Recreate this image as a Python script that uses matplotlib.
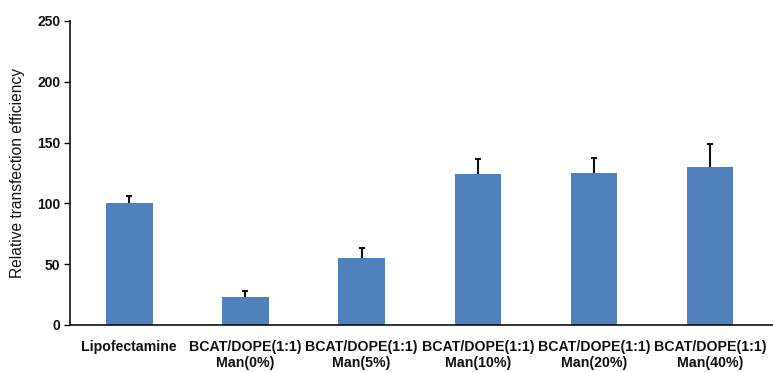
import matplotlib
matplotlib.use("Agg")
import matplotlib.pyplot as plt
import numpy as np

categories = ["Lipofectamine", "BCAT/DOPE(1:1)\nMan(0%)", "BCAT/DOPE(1:1)\nMan(5%)",
              "BCAT/DOPE(1:1)\nMan(10%)", "BCAT/DOPE(1:1)\nMan(20%)", "BCAT/DOPE(1:1)\nMan(40%)"]
values = [100, 23, 55, 124, 125, 130]
errors = [6, 5, 8.5, 12.5, 12, 19]
yticks = [0, 50, 100, 150, 200, 250]

plt.rcParams['font.family'] = ['Liberation Sans', 'DejaVu Sans']

fig = plt.figure(figsize=(7.73, 3.72), dpi=100)
ax = fig.add_axes([70/773, 47/372, 703/773, 304/372])

x = np.arange(len(categories))
ax.bar(x, values, width=0.4, color="#4F81BD", zorder=2)
eb = ax.errorbar(x, values, yerr=[np.zeros(len(errors)), errors], fmt="none",
                 ecolor="#111111", elinewidth=1.5, capsize=2.5, capthick=1.5, zorder=3)
# upper error only: hide the cap sitting on the bar top
eb[1][0].set_visible(False)

ax.set_xlim(-0.51, 5.54)
ax.set_ylim(0, 250)
ax.set_yticks(yticks)
ax.set_yticklabels([str(t) for t in yticks], fontsize=10, fontweight="bold", color="#111111")
ax.set_xticks(x)
ax.set_xticklabels(categories, fontsize=10.2, fontweight="bold", linespacing=1.2, color="#111111")
ax.tick_params(axis="x", length=0, pad=11)
ax.tick_params(axis="y", length=4, width=1, direction="out", pad=3)
ax.set_ylabel("Relative transfection efficiency", fontsize=11.2, labelpad=9, color="#111111")

for s in ["top", "right"]:
    ax.spines[s].set_visible(False)
for s in ["left", "bottom"]:
    ax.spines[s].set_linewidth(1.2)
    ax.spines[s].set_color("#111111")

fig.savefig("out.png", dpi=100)
